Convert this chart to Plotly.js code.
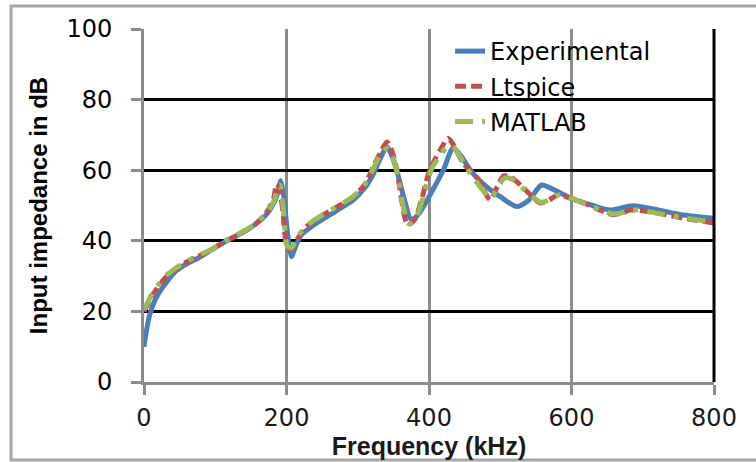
<!DOCTYPE html>
<html>
<head>
<meta charset="utf-8">
<script src="https://cdn.plot.ly/plotly-3.0.1.min.js"></script>
<style>html,body{margin:0;padding:0;background:#fff;}#chart{width:756px;height:462px;}</style>
</head>
<body>
<div id="chart"></div>
<script>
// Experimental
const expFreq = [0, 3, 8, 15, 27, 45, 60, 75, 95, 116, 135, 155, 172, 183, 189, 192, 196, 201, 207, 212, 220, 235, 250, 270, 294, 310, 322, 332, 341, 348, 356, 365, 375, 385, 400, 420, 434, 445, 460, 481, 500, 523, 540, 558, 575, 600, 630, 654, 686, 720, 757, 800];
const expVal  = [10, 14, 19, 23, 27, 31.5, 33.5, 35, 37.5, 40, 42, 44.5, 47.5, 51, 54.5, 57, 53, 43, 35.5, 38, 41.5, 44, 46, 48.5, 51.6, 55, 59, 63.5, 66.7, 64, 59, 52, 46, 47.5, 52.5, 60, 66.3, 64, 59.5, 55.3, 52.5, 49.7, 51.5, 55.8, 54.5, 52, 50, 48.7, 49.9, 48.8, 47.3, 46.4];
// Ltspice
const ltFreq = [0, 5, 10, 20, 30, 45, 60, 75, 95, 116, 135, 155, 172, 182, 186, 190, 195, 200, 206, 215, 228, 247, 270, 294, 310, 322, 333, 341, 347, 355, 362, 370, 380, 390, 401, 415, 427, 435, 448, 467, 486, 495, 505, 515, 530, 545, 556, 568, 581, 600, 620, 640, 658, 670, 682, 710, 757, 800];
const ltVal  = [20, 22, 24, 27, 29.5, 32, 34, 35.5, 37.5, 40, 42, 44.5, 48, 52, 56, 55, 48, 39, 37.5, 40.5, 44, 46.8, 49.5, 52.5, 56, 61, 65.5, 68, 66, 60, 51, 44.5, 46, 52, 60, 65.5, 69, 67, 62, 58, 51.6, 55, 58.4, 58, 55.5, 52.5, 50.7, 51.5, 53, 52, 50.5, 48.7, 47.4, 47.8, 48.7, 48.2, 46.4, 45];
// MATLAB
const mlFreq = [0, 5, 10, 20, 30, 45, 60, 75, 95, 116, 135, 155, 172, 183, 188, 191, 196, 201, 207, 215, 228, 247, 270, 294, 310, 322, 333, 341, 348, 356, 363, 372, 382, 392, 403, 418, 430, 437, 450, 462, 475, 486, 496, 506, 516, 531, 546, 557, 569, 581, 600, 620, 640, 658, 670, 684, 710, 757, 800];
const mlVal  = [20.5, 22.5, 24.5, 27.5, 30, 32.3, 34.2, 35.7, 37.6, 40.2, 42.2, 44.6, 48, 51.5, 55.5, 55.7, 48, 38.5, 38, 41, 44.2, 46.9, 49.6, 52.6, 56, 60.5, 64.8, 66.2, 64.5, 58.5, 50.5, 44.8, 46.5, 52.5, 60, 65, 67.1, 66, 61.5, 58, 54.5, 52, 55, 57.8, 57.5, 55, 52.3, 50.9, 51.6, 53, 52, 50.4, 48.8, 47.6, 47.9, 48.8, 48.2, 46.5, 45.3];

const xTickVals = [0, 200, 400, 600, 800];
const yTickVals = [0, 20, 40, 60, 80, 100];

const traces = [
  {x: expFreq, y: expVal, name: 'Experimental', legendgroup: 'g1', type: 'scatter', mode: 'lines',
   line: {color: '#4A7EBB', width: 5, shape: 'spline', smoothing: 0.7}},
  {x: ltFreq, y: ltVal, name: 'Ltspice', legendgroup: 'g2', type: 'scatter', mode: 'lines',
   line: {color: '#C0504D', width: 5, dash: '11px,5px', shape: 'spline', smoothing: 0.7}},
  {x: mlFreq, y: mlVal, name: 'MATLAB', legendgroup: 'g3', type: 'scatter', mode: 'lines',
   line: {color: '#9BBB59', width: 5, dash: '18px,9px,5px,9px', shape: 'spline', smoothing: 0.7}}
];

const gray = '#8c8c8c';
const layout = {
  width: 756, height: 462,
  margin: {l: 144, r: 42, t: 29, b: 80},
  paper_bgcolor: '#ffffff', plot_bgcolor: '#ffffff',
  showlegend: true,
  legend: {x: 0.537, y: 1.0, xanchor: 'left', yanchor: 'top', bgcolor: 'rgba(0,0,0,0)',
           tracegroupgap: 1,
           font: {family: 'DejaVu Sans', size: 24, color: '#000'}},
  xaxis: {range: [0, 800], tickvals: xTickVals, ticktext: xTickVals.map(String),
          showgrid: true, gridcolor: gray, gridwidth: 3,
          showline: true, linecolor: gray, linewidth: 3, zeroline: false,
          ticks: 'outside', ticklen: 10, tickwidth: 3, tickcolor: gray,
          ticklabelstandoff: 2,
          tickfont: {family: 'DejaVu Sans', size: 24, color: '#1a1a1a'},
          title: {text: 'Frequency (kHz)', standoff: 7,
                  font: {family: 'Liberation Sans', size: 25, color: '#1a1a1a', weight: 'bold'}}},
  yaxis: {range: [0, 100], tickvals: yTickVals, ticktext: yTickVals.map(String),
          showgrid: true, gridcolor: '#000000', gridwidth: 3,
          showline: true, linecolor: gray, linewidth: 3, zeroline: false,
          ticks: 'outside', ticklen: 10, tickwidth: 3, tickcolor: gray,
          ticklabelstandoff: 14,
          tickfont: {family: 'DejaVu Sans', size: 24, color: '#000'},
          title: {text: 'Input impedance in dB', standoff: 12,
                  font: {family: 'Liberation Sans', size: 24, color: '#000', weight: 'bold'}}},
  shapes: [
    {type: 'line', xref: 'paper', yref: 'paper', x0: 1, x1: 1, y0: 0, y1: 1,
     line: {color: '#000', width: 3}},
    {type: 'rect', xref: 'paper', yref: 'paper', x0: -0.2333, x1: 1.3, y0: -0.221, y1: 1.0652,
     line: {color: '#a6a6a6', width: 3}, layer: 'below'}
  ]
};

Plotly.newPlot('chart', traces, layout, {staticPlot: true, displayModeBar: false});
</script>
</body>
</html>
